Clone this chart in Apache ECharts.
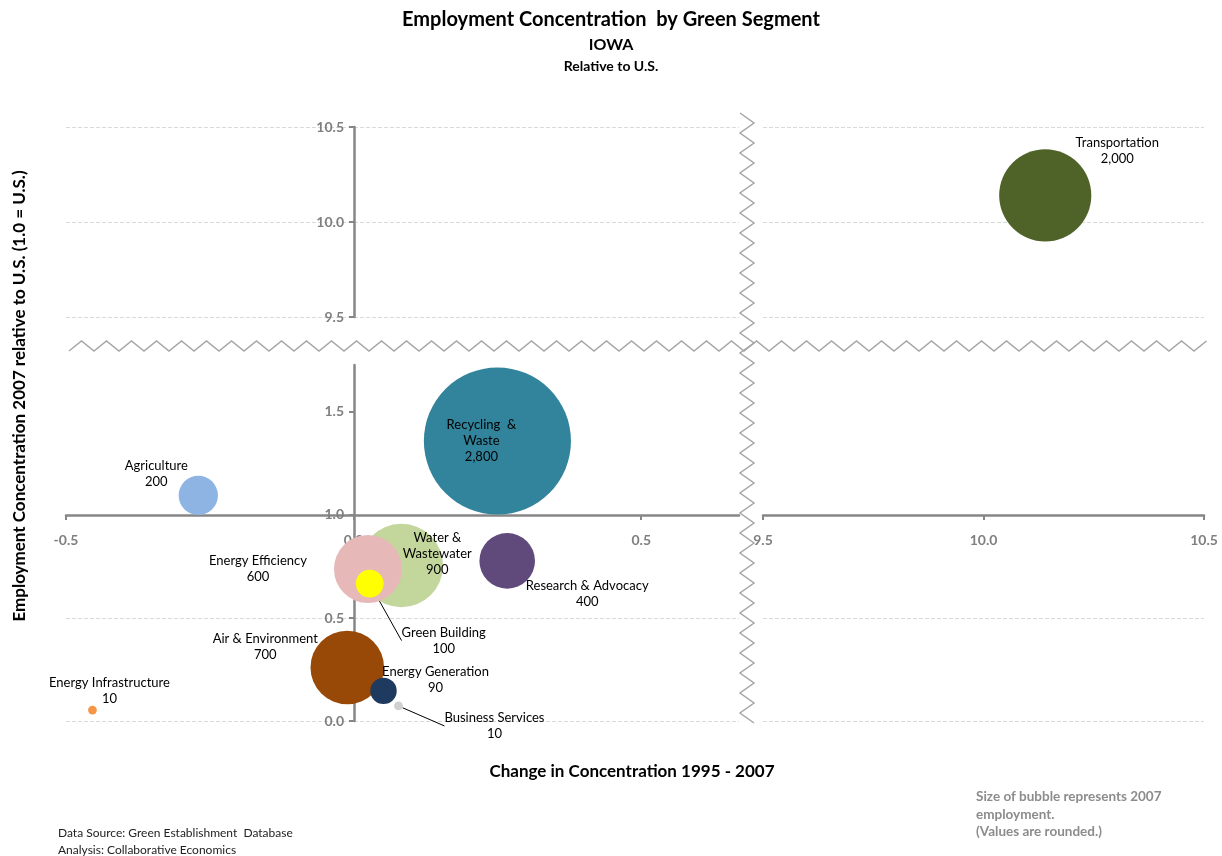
<!DOCTYPE html>
<html>
<head>
<meta charset="utf-8">
<script src="https://cdn.jsdelivr.net/npm/echarts@6/dist/echarts.min.js"></script>
<style>
  html, body { margin: 0; padding: 0; background: #fff; }
  #chart { width: 1222px; height: 856px; }
</style>
</head>
<body>
<div id="chart"></div>
<script>
// Main panel segments (x: -0.5..0.67, y: 0..1.73)
const segmentos = ['Recycling  &\nWaste', 'Water &\nWastewater', 'Energy Efficiency', 'Air & Environment',
  'Research & Advocacy', 'Agriculture', 'Green Building', 'Energy Generation', 'Business Services',
  'Energy Infrastructure'];
const cambio = [0.250, 0.083, 0.025, -0.011, 0.267, -0.270, 0.028, 0.052, 0.078, -0.454];
const concentracion = [1.359, 0.755, 0.738, 0.260, 0.777, 1.095, 0.667, 0.146, 0.073, 0.053];
const empleo = [2800, 900, 600, 700, 400, 200, 100, 90, 10, 10];

// Out-of-scale segment (upper right panel)
const segmentosAlto = ['Transportation'];
const cambioAlto = [10.14];
const concentracionAlto = [10.14];
const empleoAlto = [2000];

// Tick labels
const ticksXIzq = [-0.5, 0, 0.5];
const ticksXDer = [9.5, 10, 10.5];
const ticksYBajo = [0, 0.5, 1, 1.5];
const ticksYAlto = [9.5, 10, 10.5];

// styles
const colores = ['#31849B', '#C3D69B', '#E6B9B8', '#984807', '#604A7B', '#8EB4E3', '#FFFF00', '#1F3A5F', '#D0D0D0', '#F79646'];
const colorAlto = '#4F6228';
const desplazamientos = [[-16, 0], [36, -12], [-110, 0], [-82, -21], [80, 33], [-42, -22], [74, 57], [52, -11], [96, 20], [17, -19]];
const conLinea = [false, false, false, false, false, false, true, false, true, false];
const desplazamientoAlto = [[72, -45]];
const escalaBurbuja = 2.78;
const escalaBurbujaAlto = 2.06;

const FONT = 'Lato, "Open Sans", sans-serif';
const GRIS = '#868686';
const fmt = n => n.toLocaleString('en-US');

const myChart = echarts.init(document.getElementById('chart'));

// x axis drawn at y = 1.0 (206 px above the grid bottom)
const ejeX = (grid, min, max, ticks, visible) => ({
  type: 'value', gridIndex: grid, min, max, position: 'bottom', offset: -206, show: visible,
  axisLine: { show: true, onZero: false, lineStyle: { color: GRIS, width: 2.5 } },
  axisTick: { show: true, customValues: ticks, length: 5, lineStyle: { color: GRIS, width: 2 } },
  axisLabel: { customValues: ticks, formatter: v => v.toFixed(1), margin: 18, color: '#7f7f7f', fontWeight: 'bold', fontSize: 14, fontFamily: FONT },
  splitLine: { show: false }
});

// y axis drawn at x = 0 (288 px right of the left grid edge)
const ejeY = (grid, min, max, ticks, visible, maxLine) => ({
  type: 'value', gridIndex: grid, min, max, position: 'left', offset: -288,
  axisLine: { show: visible, onZero: false, lineStyle: { color: GRIS, width: 2.5 } },
  axisTick: { show: visible, customValues: ticks, length: 5, lineStyle: { color: GRIS, width: 2 } },
  axisLabel: { show: visible, customValues: ticks, formatter: v => v.toFixed(1), margin: 10, color: '#7f7f7f', fontWeight: 'bold', fontSize: 14, fontFamily: FONT },
  splitLine: { show: true, showMaxLine: maxLine, lineStyle: { color: '#d9d9d9', type: 'dashed', width: 1 } }
});

const etiqueta = {
  show: true, color: '#000', fontSize: 13, fontFamily: FONT, lineHeight: 16,
  align: 'center', verticalAlign: 'middle', position: 'inside',
  formatter: p => p.name + '\n' + fmt(p.value[2])
};

const datosBajo = segmentos.map((n, i) => ({
  name: n,
  value: [cambio[i], concentracion[i], empleo[i]],
  itemStyle: { color: colores[i], opacity: 1 },
  labelLine: { show: conLinea[i], lineStyle: { color: '#000', width: 1 } }
}));
const datosAlto = segmentosAlto.map((n, i) => ({
  name: n,
  value: [cambioAlto[i], concentracionAlto[i], empleoAlto[i]],
  itemStyle: { color: colorAlto, opacity: 1 }
}));

// zigzag break marks
function zigzagH(x0, x1, y, amp, per) {
  const pts = [];
  for (let x = x0, k = 0; x <= x1; x += per / 2, k++) pts.push([x, y + (k % 2 ? -amp : amp)]);
  return pts;
}
function zigzagV(y0, y1, x, amp, per) {
  const pts = [];
  for (let y = y0, k = 0; y <= y1; y += per / 2, k++) pts.push([x + (k % 2 ? amp : -amp), y]);
  return pts;
}

const option = {
  backgroundColor: '#fff',
  animation: false,
  title: [
    { text: 'Employment Concentration  by Green Segment', left: 'center', top: 5, textStyle: { fontSize: 20, fontWeight: 'bold', color: '#000', fontFamily: FONT } },
    { text: 'IOWA', left: 'center', top: 32, textStyle: { fontSize: 16, fontWeight: 'bold', color: '#000', fontFamily: FONT } },
    { text: 'Relative to U.S.', left: 'center', top: 54, textStyle: { fontSize: 14, fontWeight: 'bold', color: '#000', fontFamily: FONT } }
  ],
  grid: [
    { left: 66, top: 365, width: 673, height: 356 },
    { left: 66, top: 127, width: 673, height: 190 },
    { left: 763, top: 365, width: 441, height: 356 },
    { left: 763, top: 127, width: 441, height: 190 }
  ],
  xAxis: [
    ejeX(0, -0.5, 0.67, ticksXIzq, true),
    ejeX(1, -0.5, 0.67, ticksXIzq, false),
    ejeX(2, 9.5, 10.5, ticksXDer, true),
    ejeX(3, 9.5, 10.5, ticksXDer, false)
  ],
  yAxis: [
    ejeY(0, 0, 1.728, ticksYBajo, true, false),
    ejeY(1, 9.5, 10.5, ticksYAlto, true, true),
    ejeY(2, 0, 1.728, ticksYBajo, false, false),
    ejeY(3, 9.5, 10.5, ticksYAlto, false, true)
  ],
  series: [
    {
      type: 'scatter', xAxisIndex: 0, yAxisIndex: 0,
      data: datosBajo,
      symbolSize: v => escalaBurbuja * Math.sqrt(v[2]),
      label: etiqueta,
      labelLayout: p => ({ dx: desplazamientos[p.dataIndex][0], dy: desplazamientos[p.dataIndex][1] }),
      emphasis: { disabled: true }
    },
    {
      type: 'scatter', xAxisIndex: 3, yAxisIndex: 3,
      data: datosAlto,
      symbolSize: v => escalaBurbujaAlto * Math.sqrt(v[2]),
      label: etiqueta,
      labelLayout: p => ({ dx: desplazamientoAlto[p.dataIndex][0], dy: desplazamientoAlto[p.dataIndex][1] }),
      emphasis: { disabled: true }
    }
  ],
  graphic: [
    { type: 'polyline', shape: { points: zigzagH(69, 1218, 346, 5, 25) }, style: { stroke: '#a6a6a6', lineWidth: 1.5, fill: null }, z: 10 },
    { type: 'polyline', shape: { points: zigzagV(113, 725, 747, 7, 20) }, style: { stroke: '#a6a6a6', lineWidth: 1.5, fill: null }, z: 10 },
    { type: 'text', x: 632, y: 772, style: { text: 'Change in Concentration 1995 - 2007', font: 'bold 17px ' + FONT, fill: '#000', textAlign: 'center', textVerticalAlign: 'middle' } },
    { type: 'text', x: 20, y: 396, rotation: Math.PI / 2, style: { text: 'Employment Concentration 2007 relative to U.S. (1.0 = U.S.)', font: 'bold 17px ' + FONT, fill: '#000', textAlign: 'center', textVerticalAlign: 'middle' } },
    { type: 'text', left: 58, top: 825, style: { text: 'Data Source: Green Establishment  Database\nAnalysis: Collaborative Economics', font: '12px ' + FONT, lineHeight: 17, fill: '#222' } },
    { type: 'text', left: 976, top: 788, style: { text: 'Size of bubble represents 2007\nemployment.\n(Values are rounded.)', font: 'bold 13.5px ' + FONT, lineHeight: 17.5, fill: '#8c8c8c' } }
  ]
};

myChart.setOption(option);
window.addEventListener('resize', () => myChart.resize());
</script>
</body>
</html>
